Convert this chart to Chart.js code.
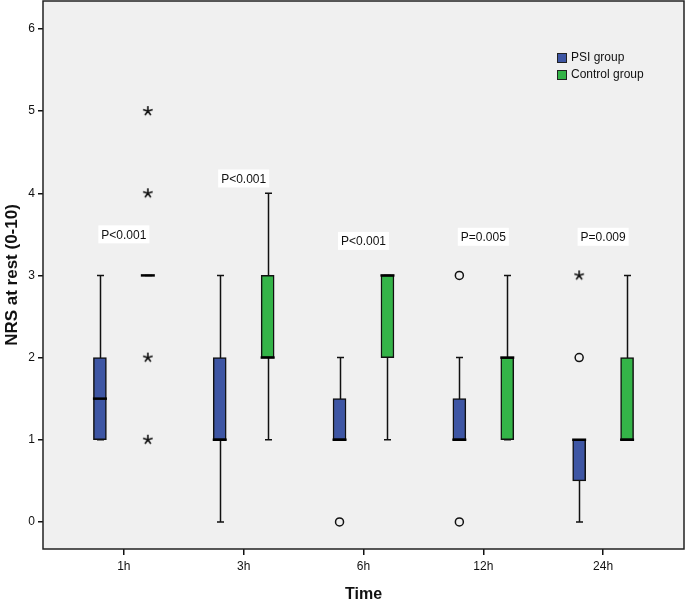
<!DOCTYPE html>
<html>
<head>
<meta charset="utf-8">
<script src="https://cdn.jsdelivr.net/npm/chart.js@4"></script>
<style>
  body { margin: 0; background: #fff; }
  canvas { display: block; }
</style>
</head>
<body>
<canvas id="myChart" width="685" height="601"></canvas>
<script>
// time points
const times = ['1h', '3h', '6h', '12h', '24h'];

// PSI group box values
const psiMin = [1, 0, 1, 1, 0];
const psiQ1 = [1, 1, 1, 1, 0.5];
const psiMed = [1.5, 1, 1, 1, 1];
const psiQ3 = [2, 2, 1.5, 1.5, 1];
const psiMax = [3, 3, 2, 2, 1];
const psiCircles = [[], [], [0], [3, 0], [2]];
const psiStars = [[], [], [], [], [3]];

// Control group box values
const ctlMin = [3, 1, 1, 1, 1];
const ctlQ1 = [3, 2, 2, 1, 1];
const ctlMed = [3, 2, 3, 2, 1];
const ctlQ3 = [3, 3, 3, 2, 2];
const ctlMax = [3, 4, 3, 3, 3];
const ctlCircles = [[], [], [], [], []];
const ctlStars = [[5, 4, 2, 1], [], [], [], []];

// p values and where they sit
const pLabels = ['P<0.001', 'P<0.001', 'P<0.001', 'P=0.005', 'P=0.009'];
const pY = [3.5, 4.18, 3.42, 3.47, 3.47];

const yTicks = [0, 1, 2, 3, 4, 5, 6];

const SHIFT = 0.2;
const blue = 'rgb(62, 86, 164)';
const green = 'rgb(52, 180, 72)';
const FONT = '"Liberation Sans", Arial, sans-serif';

function pts(list, dx) {
  let out = [];
  list.forEach((vals, i) => vals.forEach(v => out.push({x: i + dx, y: v})));
  return out;
}

// asterisk marker like the SPSS extreme-value star
var star = document.createElement('canvas');
star.width = 12; star.height = 12;
(function () {
  let c = star.getContext('2d');
  c.strokeStyle = '#111';
  c.lineWidth = 1.6;
  c.beginPath();
  for (let k = 0; k < 5; k++) {
    let a = -Math.PI / 2 + k * 2 * Math.PI / 5;
    c.moveTo(6, 6);
    c.lineTo(6 + 5 * Math.cos(a), 6 + 5 * Math.sin(a));
  }
  c.stroke();
})();

const groups = [
  {dx: -SHIFT, min: psiMin, med: psiMed, max: psiMax},
  {dx: SHIFT, min: ctlMin, med: ctlMed, max: ctlMax}
];

function noPad(s) {
  s.paddingTop = 0; s.paddingBottom = 0;
  s.paddingLeft = 0; s.paddingRight = 0;
}

const boxPlugin = {
  id: 'boxStuff',
  beforeDraw(chart) {
    const {ctx, chartArea: a} = chart;
    ctx.save();
    ctx.fillStyle = '#f0f0f0';
    ctx.fillRect(a.left, a.top, a.right - a.left, a.bottom - a.top);
    ctx.restore();
  },
  beforeDatasetsDraw(chart) {
    // whiskers
    const ctx = chart.ctx, xs = chart.scales.x, ys = chart.scales.y;
    ctx.save();
    ctx.strokeStyle = '#111';
    ctx.lineWidth = 1.5;
    groups.forEach(g => {
      times.forEach((t, i) => {
        let x = Math.round(xs.getPixelForValue(i + g.dx)) + 0.5;
        let y0 = ys.getPixelForValue(g.min[i]);
        let y1 = ys.getPixelForValue(g.max[i]);
        ctx.beginPath();
        ctx.moveTo(x, y0); ctx.lineTo(x, y1);
        ctx.moveTo(x - 3.5, y0); ctx.lineTo(x + 3.5, y0);
        ctx.moveTo(x - 3.5, y1); ctx.lineTo(x + 3.5, y1);
        ctx.stroke();
      });
    });
    ctx.restore();
  },
  afterDatasetsDraw(chart) {
    const ctx = chart.ctx, xs = chart.scales.x, ys = chart.scales.y, a = chart.chartArea;
    ctx.save();
    // medians
    ctx.strokeStyle = '#000';
    ctx.lineWidth = 2.5;
    groups.forEach(g => {
      times.forEach((t, i) => {
        let x = xs.getPixelForValue(i + g.dx);
        let y = ys.getPixelForValue(g.med[i]);
        ctx.beginPath();
        ctx.moveTo(x - 7, y); ctx.lineTo(x + 7, y);
        ctx.stroke();
      });
    });
    // p labels
    ctx.font = '12px ' + FONT;
    ctx.textAlign = 'center';
    ctx.textBaseline = 'middle';
    pLabels.forEach((p, i) => {
      let x = xs.getPixelForValue(i);
      let y = ys.getPixelForValue(pY[i]);
      let w = ctx.measureText(p).width + 6;
      ctx.fillStyle = '#fff';
      ctx.fillRect(x - w / 2, y - 9, w, 18);
      ctx.fillStyle = '#111';
      ctx.fillText(p, x, y + 1);
    });
    // legend
    const items = [['PSI group', blue], ['Control group', green]];
    ctx.textAlign = 'left';
    items.forEach((it, k) => {
      let ly = 53 + k * 17;
      ctx.fillStyle = it[1];
      ctx.fillRect(557, ly, 9, 9);
      ctx.strokeStyle = '#222';
      ctx.lineWidth = 1;
      ctx.strokeRect(557.5, ly + 0.5, 9, 9);
      ctx.fillStyle = '#111';
      ctx.fillText(it[0], 571, ly + 5);
    });
    // frame
    ctx.strokeStyle = '#222';
    ctx.lineWidth = 1.5;
    ctx.strokeRect(a.left, a.top, a.right - a.left, a.bottom - a.top);
    ctx.restore();
  }
};

var ctx = document.getElementById('myChart').getContext('2d');
var myChart = new Chart(ctx, {
  type: 'bar',
  data: {
    datasets: [
      {
        label: 'PSI group',
        data: times.map((t, i) => ({x: i - SHIFT, y: [psiQ1[i], psiQ3[i]]})),
        backgroundColor: blue,
        borderColor: '#111',
        borderWidth: 1.5,
        borderSkipped: false,
        barThickness: 13,
        grouped: false
      },
      {
        label: 'Control group',
        data: times.map((t, i) => ({x: i + SHIFT, y: [ctlQ1[i], ctlQ3[i]]})),
        backgroundColor: green,
        borderColor: '#111',
        borderWidth: 1.5,
        borderSkipped: false,
        barThickness: 13,
        grouped: false
      },
      {
        type: 'scatter',
        label: 'outliers',
        data: pts(psiCircles, -SHIFT).concat(pts(ctlCircles, SHIFT)),
        pointStyle: 'circle',
        radius: 4,
        borderColor: '#111',
        borderWidth: 1.5,
        backgroundColor: 'rgba(0,0,0,0)'
      },
      {
        type: 'scatter',
        label: 'extremes',
        data: pts(psiStars, -SHIFT).concat(pts(ctlStars, SHIFT)),
        pointStyle: star
      }
    ]
  },
  options: {
    responsive: false,
    animation: false,
    layout: {autoPadding: false, padding: {top: 1, right: 1}},
    plugins: {
      legend: {display: false},
      tooltip: {enabled: false}
    },
    scales: {
      x: {
        type: 'linear',
        min: -0.675,
        max: 4.675,
        offset: false,
        afterBuildTicks: s => { s.ticks = times.map((t, i) => ({value: i})); },
        afterFit: s => { s.height = 52; noPad(s); },
        ticks: {
          callback: v => times[v],
          color: '#111',
          font: {family: FONT, size: 12},
          padding: 4,
          maxRotation: 0
        },
        grid: {drawOnChartArea: false, offset: false, color: '#111', tickLength: 6, lineWidth: 1.5},
        border: {display: false},
        title: {
          display: true,
          text: 'Time',
          color: '#111',
          font: {family: FONT, size: 16, weight: 'bold'},
          padding: {top: 0, bottom: -3}
        }
      },
      y: {
        type: 'linear',
        min: -0.33,
        max: 6.34,
        afterBuildTicks: s => { s.ticks = yTicks.map(v => ({value: v})); },
        afterFit: s => { s.width = 43; noPad(s); },
        ticks: {
          color: '#111',
          font: {family: FONT, size: 12},
          padding: 3
        },
        grid: {drawOnChartArea: false, color: '#111', tickLength: 5, lineWidth: 1.5},
        border: {display: false},
        title: {
          display: true,
          text: 'NRS at rest (0-10)',
          color: '#111',
          font: {family: FONT, size: 17, weight: 'bold'},
          padding: {top: 2, bottom: 0}
        }
      }
    }
  },
  plugins: [boxPlugin]
});
</script>
</body>
</html>
